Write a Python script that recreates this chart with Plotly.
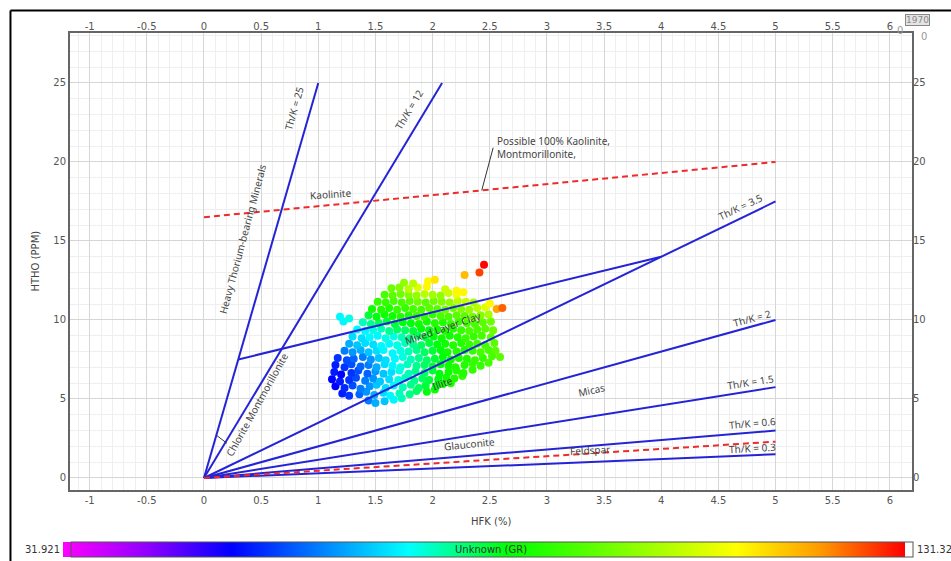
import plotly.graph_objects as go

# ---------------- data ----------------
# scatter cluster (HFK %, HTHO ppm, GR)
rows = [
    ([1.44, 1.50, 1.58, 1.66, 1.73],
     [4.9, 4.75, 4.85, 4.95, 5.05],
     [62, 66, 68, 72, 76]),
    ([1.21, 1.27, 1.36, 1.42, 1.49, 1.57, 1.63, 1.71, 1.80, 1.86, 1.95, 2.02],
     [5.35, 5.2, 5.3, 5.45, 5.25, 5.4, 5.2, 5.35, 5.3, 5.5, 5.45, 5.6],
     [54, 56, 60, 64, 66, 70, 72, 76, 78, 80, 84, 86]),
    ([1.15, 1.23, 1.30, 1.37, 1.45, 1.51, 1.59, 1.66, 1.74, 1.81, 1.88, 1.94, 2.03, 2.09, 2.16],
     [5.8, 5.7, 5.85, 5.65, 5.8, 5.9, 5.7, 5.85, 5.75, 5.9, 5.7, 5.85, 5.8, 5.95, 6.0],
     [52, 55, 58, 62, 64, 68, 70, 72, 76, 78, 80, 82, 84, 86, 88]),
    ([1.12, 1.19, 1.27, 1.33, 1.41, 1.48, 1.54, 1.62, 1.70, 1.76, 1.84, 1.91, 1.97, 2.05, 2.12, 2.19, 2.26],
     [6.25, 6.1, 6.2, 6.35, 6.15, 6.3, 6.1, 6.25, 6.2, 6.35, 6.15, 6.3, 6.2, 6.25, 6.35, 6.3, 6.45],
     [52, 54, 56, 58, 62, 64, 68, 70, 74, 76, 78, 80, 82, 84, 86, 88, 90]),
    ([1.14, 1.20, 1.29, 1.35, 1.43, 1.50, 1.57, 1.64, 1.71, 1.79, 1.85, 1.93, 2.00, 2.06, 2.14, 2.21, 2.27, 2.35],
     [6.7, 6.55, 6.65, 6.8, 6.6, 6.75, 6.6, 6.7, 6.8, 6.6, 6.75, 6.65, 6.8, 6.6, 6.7, 6.8, 6.65, 6.85],
     [54, 52, 56, 58, 60, 64, 68, 70, 74, 76, 78, 80, 82, 84, 86, 88, 88, 90]),
    ([1.15, 1.23, 1.29, 1.37, 1.44, 1.51, 1.58, 1.65, 1.72, 1.78, 1.86, 1.93, 2.00, 2.07, 2.14, 2.20, 2.28, 2.35, 2.42, 2.49],
     [7.15, 7.0, 7.2, 7.05, 7.15, 7.0, 7.2, 7.1, 7.0, 7.2, 7.1, 7.15, 7.05, 7.2, 7.1, 7.0, 7.15, 7.25, 7.1, 7.3],
     [54, 56, 58, 60, 62, 66, 70, 72, 74, 76, 78, 80, 82, 84, 86, 88, 88, 90, 90, 92]),
    ([1.17, 1.25, 1.31, 1.39, 1.46, 1.53, 1.59, 1.67, 1.74, 1.81, 1.88, 1.95, 2.02, 2.09, 2.16, 2.23, 2.30, 2.37, 2.44, 2.52, 2.59],
     [7.6, 7.45, 7.55, 7.65, 7.5, 7.6, 7.45, 7.55, 7.65, 7.5, 7.6, 7.45, 7.55, 7.65, 7.5, 7.6, 7.55, 7.45, 7.6, 7.7, 7.65],
     [56, 58, 60, 62, 64, 68, 70, 72, 74, 76, 78, 80, 82, 84, 86, 88, 88, 90, 90, 92, 94]),
    ([1.23, 1.30, 1.37, 1.44, 1.51, 1.57, 1.65, 1.72, 1.79, 1.86, 1.93, 2.00, 2.07, 2.13, 2.21, 2.28, 2.35, 2.42, 2.49, 2.55],
     [8.05, 7.95, 8.1, 7.95, 8.05, 8.1, 7.9, 8.05, 8.0, 8.1, 7.95, 8.05, 8.1, 7.95, 8.0, 8.1, 8.05, 7.95, 8.1, 8.05],
     [62, 64, 66, 68, 70, 72, 72, 74, 76, 78, 80, 82, 84, 86, 88, 88, 90, 92, 92, 94]),
    ([1.27, 1.34, 1.41, 1.48, 1.55, 1.62, 1.69, 1.76, 1.83, 1.90, 1.97, 2.04, 2.11, 2.18, 2.25, 2.32, 2.39, 2.46, 2.54],
     [8.5, 8.4, 8.55, 8.45, 8.35, 8.5, 8.4, 8.55, 8.45, 8.4, 8.55, 8.45, 8.5, 8.4, 8.55, 8.45, 8.5, 8.4, 8.55],
     [66, 68, 70, 70, 72, 72, 74, 76, 78, 80, 82, 84, 86, 88, 88, 90, 92, 92, 94]),
    ([1.30, 1.38, 1.45, 1.52, 1.59, 1.66, 1.73, 1.80, 1.87, 1.94, 2.01, 2.08, 2.15, 2.22, 2.29, 2.36, 2.43, 2.51],
     [8.95, 8.85, 8.9, 9.0, 8.85, 8.95, 8.9, 8.85, 9.0, 8.9, 8.95, 8.85, 9.0, 8.9, 8.85, 8.95, 9.0, 8.9],
     [70, 70, 72, 72, 74, 74, 76, 78, 80, 82, 84, 86, 86, 88, 90, 90, 92, 94]),
    ([1.34, 1.41, 1.48, 1.55, 1.62, 1.69, 1.76, 1.83, 1.90, 1.97, 2.04, 2.11, 2.18, 2.25, 2.32, 2.39, 2.46, 2.53],
     [9.4, 9.3, 9.35, 9.45, 9.3, 9.4, 9.35, 9.3, 9.45, 9.35, 9.4, 9.3, 9.45, 9.35, 9.3, 9.4, 9.45, 9.35],
     [72, 72, 74, 76, 78, 80, 80, 82, 84, 84, 86, 88, 88, 90, 92, 92, 94, 96]),
    ([1.22, 1.39, 1.46, 1.53, 1.60, 1.67, 1.74, 1.81, 1.88, 1.95, 2.02, 2.09, 2.16, 2.23, 2.30, 2.37, 2.44, 2.51],
     [9.9, 9.85, 9.75, 9.8, 9.9, 9.75, 9.85, 9.8, 9.75, 9.9, 9.8, 9.85, 9.75, 9.9, 9.8, 9.75, 9.85, 9.9],
     [72, 76, 78, 80, 82, 82, 84, 84, 86, 86, 88, 88, 90, 90, 92, 92, 94, 96]),
    ([1.19, 1.27, 1.44, 1.51, 1.58, 1.65, 1.72, 1.79, 1.86, 1.93, 2.00, 2.07, 2.14, 2.21, 2.28, 2.35, 2.42, 2.49],
     [10.2, 10.1, 10.3, 10.2, 10.35, 10.25, 10.2, 10.3, 10.25, 10.2, 10.35, 10.25, 10.2, 10.3, 10.25, 10.2, 10.3, 10.35],
     [72, 74, 82, 84, 86, 86, 88, 88, 90, 90, 90, 92, 92, 94, 94, 96, 98, 102]),
    ([1.47, 1.55, 1.62, 1.69, 1.76, 1.83, 1.90, 1.97, 2.04, 2.11, 2.18, 2.25, 2.32, 2.39, 2.46],
     [10.7, 10.65, 10.75, 10.65, 10.75, 10.7, 10.65, 10.75, 10.7, 10.65, 10.75, 10.7, 10.65, 10.75, 10.8],
     [86, 88, 88, 90, 90, 92, 92, 94, 94, 96, 96, 98, 100, 104, 108]),
    ([1.52, 1.59, 1.66, 1.73, 1.80, 1.87, 1.94, 2.01, 2.08, 2.15, 2.22, 2.29, 2.36, 2.50],
     [11.15, 11.1, 11.2, 11.1, 11.2, 11.15, 11.1, 11.2, 11.15, 11.1, 11.2, 11.15, 11.1, 11.05],
     [90, 90, 92, 92, 94, 96, 94, 96, 98, 100, 104, 106, 102, 112]),
    ([1.58, 1.65, 1.72, 1.79, 1.86, 1.93, 2.00, 2.07, 2.14, 2.21, 2.27],
     [11.6, 11.55, 11.65, 11.6, 11.55, 11.65, 11.6, 11.55, 11.7, 11.6, 11.75],
     [92, 94, 96, 98, 100, 104, 102, 100, 106, 110, 112]),
    ([1.64, 1.71, 1.79, 1.87, 1.95, 2.11, 2.21],
     [12.0, 12.05, 11.95, 12.05, 12.1, 11.95, 11.85],
     [96, 98, 104, 108, 112, 106, 112]),
    ([1.75, 1.83, 1.96, 2.02],
     [12.35, 12.3, 12.45, 12.55],
     [100, 104, 112, 114]),
]
outlier_hfk = [2.28, 2.41, 2.45, 2.56, 2.61]
outlier_htho = [12.85, 13.0, 13.5, 10.7, 10.75]
outlier_gr = [118, 127, 131, 120, 125]

hfk, htho, gr = [], [], []
for xs, ys, gs in rows:
    hfk += xs
    htho += ys
    gr += gs
hfk += outlier_hfk
htho += outlier_htho
gr += outlier_gr

GR_MIN, GR_MAX = 31.921, 131.32

# Th/K ratio lines: (label, end HFK, end HTHO)
ratio_lines = [
    ("Th/K = 25", 1.0, 25.0),
    ("Th/K = 12", 2.083, 25.0),
    ("Th/K = 3.5", 5.0, 17.5),
    ("Th/K = 2", 5.0, 10.0),
    ("Th/K = 1.5", 5.0, 5.75),
    ("Th/K = 0.6", 5.0, 3.0),
    ("Th/K = 0.3", 5.0, 1.5),
]
mixed_x = [0.3, 4.0]
mixed_y = [7.5, 14.0]
kaol_x = [0.0, 5.0]
kaol_y = [16.5, 20.0]
feld_x = [0.0, 5.0]
feld_y = [0.0, 2.3]
chlorite_tick_x = [0.11, 0.20]
chlorite_tick_y = [2.7, 2.2]
leader_x = [2.53, 2.43]
leader_y = [20.9, 18.2]

# text labels: (text, x, y, angle)
labels = [
    ("Th/K = 25", 0.79, 23.4, -74),
    ("Th/K = 12", 1.79, 23.3, -59),
    ("Heavy Thorium-bearing Minerals", 0.34, 15.1, -75),
    ("Kaolinite", 1.11, 18.0, -4),
    ("Th/K = 3.5", 4.69, 17.15, -25),
    ("Th/K = 2", 4.8, 10.1, -15),
    ("Th/K = 1.5", 4.78, 6.1, -9),
    ("Th/K = 0.6", 4.8, 3.46, -5),
    ("Th/K = 0.3", 4.8, 1.88, -3),
    ("Feldspar", 3.38, 1.8, -3),
    ("Glauconite", 2.32, 2.15, -6),
    ("Micas", 3.39, 5.6, -12),
    ("Illite", 2.09, 6.0, -20),
    ("Mixed Layer Clay", 2.09, 9.5, -19),
    ("Chlorite Montmorillonite", 0.46, 4.62, -61),
]

# ---------------- figure ----------------
colorscale = [
    [0.0, "#ff00ff"], [0.1, "#9000ff"], [0.2, "#0000ff"], [0.41, "#00ffff"],
    [0.53, "#00ff00"], [0.8, "#ffff00"], [0.9, "#ff9900"], [1.0, "#ff0000"],
]

fig = go.Figure()
fig.add_trace(go.Scatter(
    x=hfk, y=htho, mode="markers", showlegend=False, hoverinfo="skip",
    marker=dict(size=8, color=gr, cmin=GR_MIN, cmax=GR_MAX, colorscale=colorscale,
                line=dict(width=0),
                colorbar=dict(orientation="h", xref="container", yref="container",
                              x=546.5 / 951, xanchor="center", y=(561 - 549.5) / 561,
                              yanchor="middle", len=842, lenmode="pixels", thickness=15,
                              xpad=0, ypad=0, outlinewidth=1, outlinecolor="#555",
                              showticklabels=False, ticks=""))))

BLUE = "#2424d6"
RED = "#ee2a2a"
for name, xe, ye in ratio_lines:
    fig.add_trace(go.Scatter(x=[0, xe], y=[0, ye], mode="lines", showlegend=False,
                             hoverinfo="skip", line=dict(color=BLUE, width=2)))
fig.add_trace(go.Scatter(x=mixed_x, y=mixed_y, mode="lines", showlegend=False,
                         hoverinfo="skip", line=dict(color=BLUE, width=2)))
for xs, ys in [(kaol_x, kaol_y), (feld_x, feld_y)]:
    fig.add_trace(go.Scatter(x=xs, y=ys, mode="lines", showlegend=False, hoverinfo="skip",
                             line=dict(color=RED, width=2, dash="6px,4px")))
for xs, ys in [(chlorite_tick_x, chlorite_tick_y), (leader_x, leader_y)]:
    fig.add_trace(go.Scatter(x=xs, y=ys, mode="lines", showlegend=False, hoverinfo="skip",
                             line=dict(color="#333333", width=1)))
# dummy trace for the mirrored top / right axes
fig.add_trace(go.Scatter(x=[0], y=[0], xaxis="x2", yaxis="y2", mode="markers",
                         marker=dict(opacity=0), showlegend=False, hoverinfo="skip"))

TXT = "#444444"
for t, x, y, a in labels:
    fig.add_annotation(x=x, y=y, text=t, textangle=a, showarrow=False,
                       font=dict(family="Noto Sans", size=10, color=TXT))
fig.add_annotation(x=2.55, y=20.9, text="Possible 100% Kaolinite,<br>Montmorillonite,",
                   xanchor="left", yanchor="middle", align="left", showarrow=False,
                   font=dict(family="Noto Sans", size=10, color=TXT))

tickfont = dict(family="DejaVu Sans", size=10, color="#555555")
xticks = [-1, -0.5, 0, 0.5, 1, 1.5, 2, 2.5, 3, 3.5, 4, 4.5, 5, 5.5, 6]
xtext = ["-1", "-0.5", "0", "0.5", "1", "1.5", "2", "2.5", "3", "3.5", "4", "4.5", "5", "5.5", "6"]
yticks = [0, 5, 10, 15, 20, 25]
XR = [-1.172, 6.194]
YR = [-0.76, 28.16]

fig.update_layout(
    width=951, height=561, margin=dict(l=70, r=39, t=33, b=71),
    paper_bgcolor="white", plot_bgcolor="white",
    xaxis=dict(range=XR, tickvals=xticks, ticktext=xtext, tickfont=tickfont,
               showgrid=True, gridcolor="#d6d6d6", gridwidth=1, zeroline=False,
               minor=dict(dtick=0.1, tick0=0, showgrid=True, gridcolor="#efefef", gridwidth=1),
               showline=True, mirror=True, linecolor="#666666", linewidth=2, ticks=""),
    yaxis=dict(range=YR, tickvals=yticks, tickfont=tickfont,
               showgrid=True, gridcolor="#d6d6d6", gridwidth=1, zeroline=False,
               minor=dict(dtick=1, tick0=0, showgrid=True, gridcolor="#efefef", gridwidth=1),
               showline=True, mirror=True, linecolor="#666666", linewidth=2, ticks=""),
    xaxis2=dict(range=XR, overlaying="x", side="top", anchor="y", tickvals=xticks,
                ticktext=xtext, tickfont=tickfont, showgrid=False, zeroline=False, ticks=""),
    yaxis2=dict(range=YR, overlaying="y", side="right", anchor="x", tickvals=yticks,
                tickfont=tickfont, showgrid=False, zeroline=False, ticks=""),
)

# axis titles
fig.add_annotation(xref="paper", yref="paper", x=0.5, y=-0.070, text="HFK (%)",
                   showarrow=False, yanchor="middle", font=dict(family="DejaVu Sans", size=10, color=TXT))
fig.add_annotation(xref="paper", yref="paper", x=-0.0499, y=0.501, text="HTHO (PPM)",
                   textangle=-90, showarrow=False, font=dict(family="DejaVu Sans", size=10, color=TXT))
# colorbar texts
fig.add_annotation(xref="paper", yref="paper", x=0.5, y=-0.130, text="Unknown (GR)",
                   showarrow=False, yanchor="middle", font=dict(family="DejaVu Sans", size=10, color="#333"))
fig.add_annotation(xref="paper", yref="paper", x=-0.009, y=-0.130, text=f"{GR_MIN}",
                   showarrow=False, xanchor="right", yanchor="middle",
                   font=dict(family="DejaVu Sans", size=10, color="#333"))
fig.add_annotation(xref="paper", yref="paper", x=1.004, y=-0.130, text=f"{GR_MAX}",
                   showarrow=False, xanchor="left", yanchor="middle",
                   font=dict(family="DejaVu Sans", size=10, color="#333"))
# corner artefacts
fig.add_annotation(xref="paper", yref="paper", x=0.992, y=1.022, text="0", showarrow=False,
                   font=dict(family="DejaVu Sans", size=10, color="#999"))
fig.add_annotation(xref="paper", yref="paper", x=1.021, y=1.042, text="1970", showarrow=False,
                   bgcolor="#e4e4e4", bordercolor="#888", borderwidth=1, borderpad=0,
                   font=dict(family="DejaVu Sans", size=9, color="#888"))
fig.add_annotation(xref="paper", yref="paper", x=1.020, y=1.009, text="0", showarrow=False,
                   font=dict(family="DejaVu Sans", size=10, color="#999"))

# black frame lines on the left and top
fig.add_shape(type="line", xref="paper", yref="paper", x0=-0.0707, x1=-0.0707, y0=1.0492, y1=-0.16,
              line=dict(color="black", width=2))
fig.add_shape(type="line", xref="paper", yref="paper", x0=-0.0707, x1=1.05, y0=1.0492, y1=1.0492,
              line=dict(color="black", width=2))

fig.write_html("out.html", config={"displayModeBar": False},
               post_script="document.body.style.margin='0';document.body.style.overflow='hidden';")
